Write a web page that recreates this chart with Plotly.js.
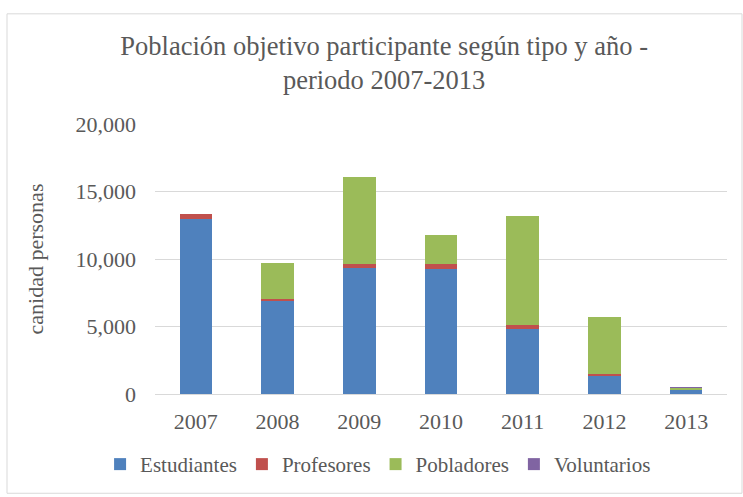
<!DOCTYPE html>
<html>
<head>
<meta charset="utf-8">
<script src="https://cdn.plot.ly/plotly-3.0.1.min.js"></script>
<style>html,body{margin:0;padding:0;background:#fff;}#chart{width:743px;height:497px;}</style>
</head>
<body>
<div id="chart"></div>
<script>
const years = ['2007','2008','2009','2010','2011','2012','2013'];
const estudiantes = [13000, 6900, 9340, 9260, 4830, 1350, 260];
const profesores = [300, 150, 310, 390, 270, 120, 30];
const pobladores = [0, 2620, 6450, 2110, 8110, 4240, 140];
const voluntarios = [0, 0, 0, 0, 0, 0, 90];
const seriesNames = ['Estudiantes', 'Profesores', 'Pobladores', 'Voluntarios'];
const colors = ['#4f81bd', '#c0504d', '#9bbb59', '#8064a2'];

const values = [estudiantes, profesores, pobladores, voluntarios];
const traces = values.map((v, i) => ({
  type: 'bar', x: years, y: v, name: seriesNames[i],
  marker: {color: colors[i], line: {color: '#ffffff', width: 0}},
  hoverinfo: 'x+y+name'
}));

const font = 'Liberation Serif';
const L = 155, R = 16, T = 124, B = 101;
const pw = 743 - L - R, ph = 497 - T - B;
const px = x => (x - L) / pw;
const py = y => (497 - B - y) / ph;

const layout = {
  width: 743, height: 497,
  margin: {l: L, r: R, t: T, b: B, pad: 0},
  paper_bgcolor: '#ffffff', plot_bgcolor: '#ffffff',
  barmode: 'stack', bargap: 0.6,
  font: {family: font, color: '#595959'},
  title: {text: 'Población objetivo participante según tipo y año -<br>periodo 2007-2013',
    font: {family: font, size: 26.5, color: '#595959'}, x: 0.517, xanchor: 'center', y: 0.89, yanchor: 'middle'},
  xaxis: {type: 'category', showgrid: false, zeroline: false, showline: true, linecolor: '#d9d9d9', linewidth: 1,
    ticks: '', ticklabelstandoff: 8, tickfont: {family: font, size: 22, color: '#595959'}},
  yaxis: {range: [0, 20000], dtick: 5000, tickformat: ',d', showgrid: true, gridcolor: '#d9d9d9', gridwidth: 1,
    zeroline: false, showline: false, ticks: '', ticklabelstandoff: 18,
    tickfont: {family: font, size: 22, color: '#595959'},
    title: {text: 'canidad personas', font: {family: font, size: 22, color: '#595959'}, standoff: 25}},
  legend: {orientation: 'h', x: 0.39, xanchor: 'center', y: -0.261, yanchor: 'middle',
    font: {family: font, size: 21, color: '#595959'}, traceorder: 'normal', itemwidth: 30},
  shapes: [{type: 'rect', xref: 'paper', yref: 'paper', x0: px(7), x1: px(742), y0: py(496), y1: py(13),
    line: {color: '#d9d9d9', width: 1}, fillcolor: 'rgba(0,0,0,0)', layer: 'below'}]
};

Plotly.newPlot('chart', traces, layout, {displayModeBar: false, staticPlot: true});
</script>
</body>
</html>
